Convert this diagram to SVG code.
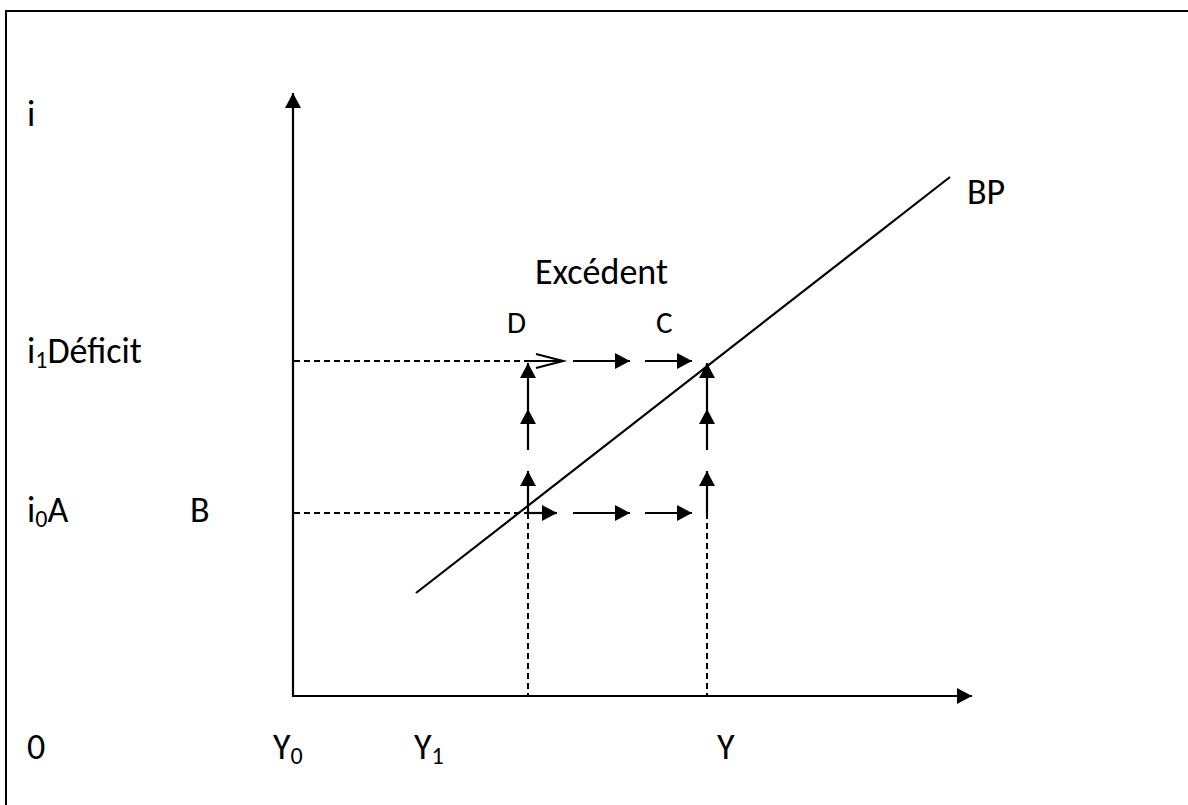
<svg xmlns="http://www.w3.org/2000/svg" width="1188" height="805" viewBox="0 0 1188 805">
<style>
text{font-family:Carlito,Lato,"Liberation Sans",sans-serif;font-size:36px;fill:#000}
.sub{font-size:24px}
.ax{stroke:#000;stroke-width:2.2;fill:none}
.ln{stroke:#000;stroke-width:2.2;fill:none}
.da{stroke:#000;stroke-width:2;fill:none;stroke-dasharray:6,4}
.hd{fill:#000;stroke:none}
</style>
<defs>
<marker id="ah" markerWidth="16" markerHeight="16" refX="15" refY="8" orient="auto" markerUnits="userSpaceOnUse">
<path d="M0,0 L15,8 L0,16 Z" class="hd"/>
</marker>
</defs>
<rect x="0" y="0" width="1188" height="805" fill="#fff"/>
<rect x="6" y="11" width="1200" height="820" fill="none" stroke="#000" stroke-width="2"/>
<g id="axes">
<line class="ax" x1="293" y1="697" x2="293" y2="93" marker-end="url(#ah)"/>
<line class="ax" x1="293" y1="696" x2="972" y2="696" marker-end="url(#ah)"/>
</g>
<g id="bp-curve">
<line class="ln" x1="416" y1="593" x2="950" y2="177"/>
</g>
<g id="connectors">
<line class="da" x1="294" y1="361" x2="528" y2="361"/>
<line class="da" x1="294" y1="513" x2="528" y2="513"/>
<line class="da" x1="528" y1="513" x2="528" y2="696"/>
<line class="da" x1="707" y1="513" x2="707" y2="696"/>
<path d="M528,361 H563 M536,354 L563,361 L536,368" class="ln"/>
<line class="ln" x1="573" y1="361" x2="630" y2="361" marker-end="url(#ah)"/>
<line class="ln" x1="645" y1="361" x2="692" y2="361" marker-end="url(#ah)"/>
<line class="ln" x1="528" y1="513" x2="557" y2="513" marker-end="url(#ah)"/>
<line class="ln" x1="573" y1="513" x2="630" y2="513" marker-end="url(#ah)"/>
<line class="ln" x1="645" y1="513" x2="692" y2="513" marker-end="url(#ah)"/>
<line class="ln" x1="528" y1="513" x2="528" y2="471" marker-end="url(#ah)"/>
<line class="ln" x1="528" y1="450" x2="528" y2="409" marker-end="url(#ah)"/>
<line class="ln" x1="528" y1="409" x2="528" y2="363" marker-end="url(#ah)"/>
<line class="ln" x1="707" y1="513" x2="707" y2="471" marker-end="url(#ah)"/>
<line class="ln" x1="707" y1="450" x2="707" y2="409" marker-end="url(#ah)"/>
<line class="ln" x1="707" y1="409" x2="707" y2="363" marker-end="url(#ah)"/>
</g>
<g id="labels">
<text x="27" y="126">i</text>
<text x="967" y="204">BP</text>
<text x="535" y="284">Excédent</text>
<text x="507" y="333" style="font-size:31px">D</text>
<text x="656" y="333" style="font-size:31px">C</text>
<text x="27" y="363">i<tspan class="sub" dy="5">1</tspan><tspan dy="-5">Déficit</tspan></text>
<text x="27" y="522">i<tspan class="sub" dy="5">0</tspan><tspan dy="-5">A</tspan></text>
<text x="190" y="522">B</text>
<text x="27" y="759">0</text>
<text x="273" y="759">Y<tspan class="sub" dy="5">0</tspan></text>
<text x="414" y="759">Y<tspan class="sub" dy="5">1</tspan></text>
<text x="717" y="759">Y</text>
</g>
</svg>
